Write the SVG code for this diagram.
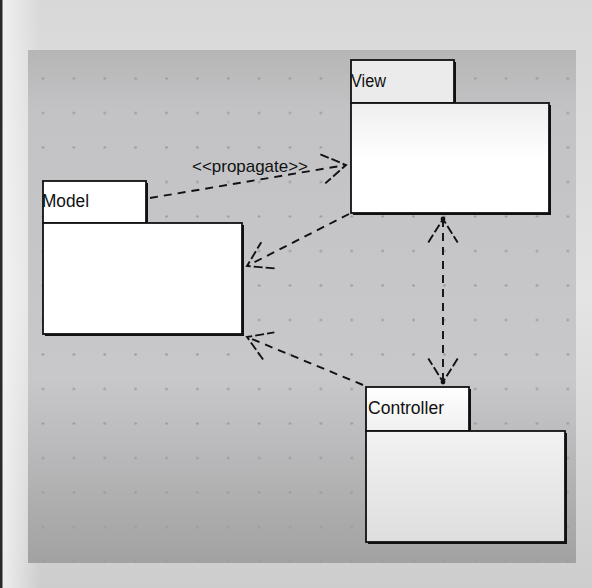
<svg xmlns="http://www.w3.org/2000/svg" width="592" height="588" viewBox="0 0 592 588">
  <defs>
    <linearGradient id="bgOuter" x1="0" y1="0" x2="0" y2="1">
      <stop offset="0" stop-color="#d8d8d8"/>
      <stop offset="0.5" stop-color="#e4e4e4"/>
      <stop offset="1" stop-color="#cdcdcd"/>
    </linearGradient>
    <linearGradient id="bgLeft" x1="0" y1="0" x2="1" y2="0">
      <stop offset="0" stop-color="#f4f4f4" stop-opacity="0.9"/>
      <stop offset="1" stop-color="#f4f4f4" stop-opacity="0"/>
    </linearGradient>
    <linearGradient id="canvasGrad" x1="0" y1="0" x2="0" y2="1">
      <stop offset="0" stop-color="#b6b6b7"/>
      <stop offset="0.12" stop-color="#c3c3c5"/>
      <stop offset="0.64" stop-color="#c8c7ca"/>
      <stop offset="1" stop-color="#a2a2a2"/>
    </linearGradient>
    <linearGradient id="viewBody" x1="0" y1="0" x2="0" y2="1">
      <stop offset="0" stop-color="#eeeeee"/>
      <stop offset="0.5" stop-color="#ffffff"/>
      <stop offset="1" stop-color="#ffffff"/>
    </linearGradient>
    <linearGradient id="ctrlTab" x1="0" y1="0" x2="0" y2="1">
      <stop offset="0" stop-color="#ffffff"/>
      <stop offset="1" stop-color="#f0f0f0"/>
    </linearGradient>
    <linearGradient id="ctrlBody" x1="0" y1="0" x2="0" y2="1">
      <stop offset="0" stop-color="#f2f2f2"/>
      <stop offset="1" stop-color="#dedede"/>
    </linearGradient>
    <pattern id="dots" patternUnits="userSpaceOnUse" x="27.56" y="61.25" width="30.875" height="34.5">
      <circle cx="15.44" cy="17.25" r="1.3" fill="#9c9c9e"/>
    </pattern>
    <marker id="openArrow" viewBox="-30 -20 40 40" markerWidth="40" markerHeight="40" refX="0" refY="0" markerUnits="userSpaceOnUse" orient="auto-start-reverse">
      <path d="M -23.5,-14.7 L 0,0 L -23.5,14.7" fill="none" stroke="#111111" stroke-width="1.9" stroke-dasharray="9 3"/>
    </marker>
  </defs>
  <style>
    .pkg { stroke: #111111; stroke-width: 1.8; }
    .shadow { fill: #111111; }
    .label { font-family: "Liberation Sans", Arial, sans-serif; fill: #111111; }
    .dep { fill: none; stroke: #111111; stroke-width: 1.9; stroke-dasharray: 8 6; }
  </style>

  <!-- background -->
  <rect x="0" y="0" width="592" height="588" fill="url(#bgOuter)"/>
  <rect x="0" y="0" width="40" height="588" fill="url(#bgLeft)"/>
  <rect x="0" y="0" width="2.5" height="588" fill="#2a2a2a"/>

  <!-- canvas -->
  <rect x="28" y="50" width="548" height="513" fill="url(#canvasGrad)"/>
  <rect x="28" y="50" width="548" height="513" fill="url(#dots)"/>

  <!-- connectors -->
  <g id="connectors">
    <line class="dep" x1="150" y1="198" x2="346" y2="165" marker-end="url(#openArrow)"/>
    <line class="dep" x1="349" y1="214" x2="247" y2="266" marker-end="url(#openArrow)"/>
    <line class="dep" x1="363" y1="385" x2="247" y2="337" marker-end="url(#openArrow)"/>
    <line class="dep" x1="443" y1="219" x2="443" y2="382" marker-start="url(#openArrow)" marker-end="url(#openArrow)"/>
    <circle cx="443" cy="219" r="2.4" fill="#111111"/>
    <circle cx="443" cy="382" r="2.4" fill="#111111"/>
    <text class="label" x="192" y="172" font-size="17" textLength="116" lengthAdjust="spacingAndGlyphs">&lt;&lt;propagate&gt;&gt;</text>
  </g>

  <!-- View package -->
  <g id="view">
    <rect class="shadow" x="353" y="62" width="103" height="43"/>
    <rect class="pkg" x="351" y="60" width="103" height="43" fill="#ebebeb"/>
    <rect class="shadow" x="353" y="105" width="198" height="110"/>
    <rect class="pkg" x="351" y="103" width="198" height="110" fill="url(#viewBody)"/>
    <text class="label" x="351" y="87" font-size="18" textLength="35" lengthAdjust="spacingAndGlyphs">View</text>
  </g>

  <!-- Model package -->
  <g id="model">
    <rect class="shadow" x="45" y="183" width="103" height="42"/>
    <rect class="pkg" x="43" y="181" width="103" height="42" fill="#ffffff"/>
    <rect class="shadow" x="45" y="225" width="199" height="111"/>
    <rect class="pkg" x="43" y="223" width="199" height="111" fill="#ffffff"/>
    <text class="label" x="42" y="207" font-size="18" textLength="47" lengthAdjust="spacingAndGlyphs">Model</text>
  </g>

  <!-- Controller package -->
  <g id="controller">
    <rect class="shadow" x="368" y="389" width="103" height="44"/>
    <rect class="pkg" x="366" y="387" width="103" height="44" fill="url(#ctrlTab)"/>
    <rect class="shadow" x="368" y="433" width="199" height="111"/>
    <rect class="pkg" x="366" y="431" width="199" height="111" fill="url(#ctrlBody)"/>
    <text class="label" x="368" y="414" font-size="18" textLength="76" lengthAdjust="spacingAndGlyphs">Controller</text>
  </g>
</svg>
